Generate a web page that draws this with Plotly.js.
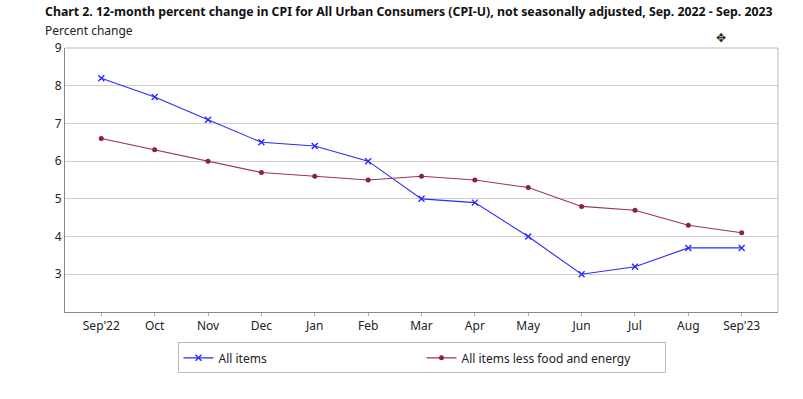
<!DOCTYPE html>
<html><head><meta charset="utf-8">
<script src="https://cdn.plot.ly/plotly-3.0.1.min.js"></script>
<style>html,body{margin:0;padding:0;background:#fff}#chart{width:803px;height:399px}</style>
</head><body><div id="chart"></div>
<script>
const months = ["Sep'22","Oct","Nov","Dec","Jan","Feb","Mar","Apr","May","Jun","Jul","Aug","Sep'23"];
const allItems = [8.2, 7.7, 7.1, 6.5, 6.4, 6.0, 5.0, 4.9, 4.0, 3.0, 3.2, 3.7, 3.7];
const coreItems = [6.6, 6.3, 6.0, 5.7, 5.6, 5.5, 5.6, 5.5, 5.3, 4.8, 4.7, 4.3, 4.1];
const yTicks = [3, 4, 5, 6, 7, 8, 9];

const idx = months.map((m, i) => i);
const font = "Noto Sans, Open Sans, sans-serif";

const traces = [
  {x: idx, y: allItems, name: "All items", mode: "lines+markers",
   line: {color: "#2a2aff", width: 1.1}, marker: {symbol: "x-thin", size: 6, color: "#2a2aff", line: {color: "#2a2aff", width: 1.4}}},
  {x: idx, y: coreItems, name: "All items less food and energy", mode: "lines+markers",
   line: {color: "#9a3358", width: 1.1}, marker: {symbol: "circle", size: 5, color: "#8c1f48"}}
];

const layout = {
  width: 803, height: 399,
  margin: {l: 65, r: 25, t: 48, b: 87},
  paper_bgcolor: "#fff", plot_bgcolor: "#fff",
  font: {family: font, size: 12, color: "#222"},
  showlegend: true,
  legend: {orientation: "h", x: 0.5, xanchor: "center", y: -0.115, yanchor: "top",
    bordercolor: "#bbb", borderwidth: 1, entrywidth: 198, font: {size: 12, color: "#222"}},
  xaxis: {range: [-0.68, 12.68], tickvals: idx, ticktext: months, showgrid: false,
    zeroline: false, showline: true, linecolor: "#888", linewidth: 1, mirror: false,
    ticks: "outside", ticklen: 3, tickcolor: "#aaa", fixedrange: true},
  yaxis: {range: [2, 9], tickvals: yTicks, showgrid: true, gridcolor: "#cfcfcf", gridwidth: 1,
    zeroline: false, showline: true, linecolor: "#888", linewidth: 1, ticks: "", ticklen: 0, fixedrange: true},
  shapes: [
    {type: "line", xref: "paper", yref: "paper", x0: 0, x1: 1, y0: 1, y1: 1, line: {color: "#bbb", width: 1}},
    {type: "line", xref: "paper", yref: "paper", x0: 1, x1: 1, y0: 0, y1: 1, line: {color: "#bbb", width: 1}}
  ],
  annotations: [
    {xref: "paper", yref: "paper", x: -0.031, y: 1.137, xanchor: "left", yanchor: "middle", showarrow: false,
     text: "<b>Chart 2. 12-month percent change in CPI for All Urban Consumers (CPI-U), not seasonally adjusted, Sep. 2022 - Sep. 2023</b>",
     font: {size: 12.3, color: "#111"}},
    {xref: "paper", yref: "paper", x: -0.031, y: 1.066, xanchor: "left", yanchor: "middle", showarrow: false,
     text: "Percent change", font: {size: 12, color: "#222"}},
    {xref: "paper", yref: "paper", x: 0.92, y: 1.04, xanchor: "center", yanchor: "middle", showarrow: false,
     text: "✥", font: {size: 12, color: "#222"}}
  ]
};

Plotly.newPlot("chart", traces, layout, {displayModeBar: false, staticPlot: true});
</script></body></html>
